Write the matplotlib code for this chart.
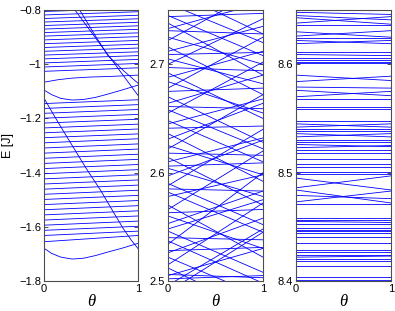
import numpy as np
import matplotlib
matplotlib.use("Agg")
import matplotlib.pyplot as plt

plt.rcParams['font.family'] = ['Liberation Sans', 'DejaVu Sans']

# ---- panel 1 : nearly flat levels (E at theta=0 and theta=1) ----
p1_left = [-0.805, -0.818, -0.831, -0.844, -0.857, -0.870, -0.883, -0.896,
           -0.910, -0.924, -0.938, -0.952, -0.966, -0.980, -0.995, -1.010,
           -1.026, -1.145, -1.163, -1.181, -1.199, -1.217, -1.235, -1.253,
           -1.271, -1.290, -1.309, -1.328, -1.347, -1.366, -1.385, -1.404,
           -1.423, -1.442, -1.461, -1.480, -1.499, -1.518, -1.537, -1.556,
           -1.575, -1.594, -1.613, -1.632, -1.655]
p1_right = [-0.793, -0.806, -0.819, -0.832, -0.845, -0.858, -0.871, -0.884,
            -0.898, -0.912, -0.926, -0.940, -0.954, -0.968, -0.982, -0.997,
            -1.013, -1.131, -1.149, -1.167, -1.185, -1.203, -1.221, -1.239,
            -1.257, -1.275, -1.294, -1.313, -1.332, -1.351, -1.370, -1.389,
            -1.408, -1.427, -1.446, -1.465, -1.484, -1.503, -1.522, -1.541,
            -1.560, -1.579, -1.598, -1.616, -1.632]

# curved / steep levels in panel 1 as (theta, E) samples
steep_a_t = [0.33, 0.60, 1.00]
steep_a_e = [-0.800, -0.927, -1.115]
steep_b_t = [0.38, 0.55, 0.68, 0.85, 1.00]
steep_b_e = [-0.800, -0.897, -0.968, -1.025, -1.070]
arch_t = [0.00, 0.15, 0.30, 0.50, 0.70, 1.00]
arch_e = [-1.066, -1.057, -1.051, -1.047, -1.045, -1.040]
dip_t = [0.00, 0.08, 0.18, 0.30, 0.42, 0.55, 0.68, 0.82, 1.00]
dip_e = [-1.095, -1.112, -1.126, -1.132, -1.130, -1.122, -1.110, -1.096, -1.077]
fall_t = [0.00, 0.10, 0.20, 0.33, 0.45, 0.60, 0.72, 0.84, 0.93, 1.00]
fall_e = [-1.125, -1.185, -1.243, -1.317, -1.385, -1.464, -1.535, -1.605,
          -1.650, -1.680]
bottom_t = [0.00, 0.08, 0.18, 0.30, 0.42, 0.55, 0.68, 0.82, 1.00]
bottom_e = [-1.679, -1.698, -1.712, -1.719, -1.716, -1.706, -1.693, -1.680,
            -1.661]

# ---- panel 2 : crossing levels ----
p2_left = [2.490, 2.496, 2.505, 2.515, 2.526, 2.534, 2.548, 2.553, 2.566,
           2.578, 2.588, 2.597, 2.610, 2.622, 2.631, 2.645, 2.655, 2.664,
           2.678, 2.688, 2.700, 2.712, 2.722, 2.733,
           2.770, 2.756, 2.745, 2.738, 2.725, 2.716, 2.705, 2.692, 2.684,
           2.670, 2.658, 2.648, 2.636, 2.625, 2.614, 2.604, 2.590, 2.582,
           2.570, 2.560, 2.546, 2.537, 2.522, 2.512,
           2.744, 2.731, 2.709, 2.697, 2.675, 2.661, 2.641, 2.618, 2.606,
           2.585, 2.563, 2.540, 2.528, 2.506, 2.502]
p2_right = [2.545, 2.548, 2.530, 2.572, 2.558, 2.600, 2.575, 2.583, 2.620,
            2.598, 2.640, 2.630, 2.632, 2.672, 2.664, 2.668, 2.702, 2.690,
            2.725, 2.712, 2.742, 2.735, 2.770, 2.757,
            2.728, 2.720, 2.708, 2.690, 2.700, 2.672, 2.682, 2.650, 2.655,
            2.628, 2.622, 2.610, 2.592, 2.598, 2.570, 2.578, 2.552, 2.545,
            2.522, 2.530, 2.508, 2.498, 2.485, 2.470,
            2.747, 2.728, 2.711, 2.694, 2.678, 2.659, 2.643, 2.616, 2.609,
            2.583, 2.566, 2.538, 2.531, 2.503, 2.505]

# ---- panel 3 : mostly flat levels ----
p3_left = [8.648, 8.645, 8.643, 8.638, 8.636, 8.630, 8.626, 8.624, 8.622,
           8.619, 8.611, 8.609, 8.606, 8.604, 8.602, 8.601, 8.590, 8.584,
           8.579, 8.576, 8.570, 8.568, 8.561, 8.559, 8.548, 8.545, 8.542,
           8.540, 8.538, 8.536, 8.533, 8.530, 8.528, 8.526, 8.523, 8.521,
           8.518, 8.513, 8.508, 8.505, 8.501, 8.499, 8.495, 8.486, 8.484,
           8.473, 8.479, 8.471, 8.458, 8.456, 8.455, 8.453, 8.449, 8.447,
           8.446, 8.444, 8.441, 8.435, 8.429, 8.427, 8.424, 8.422, 8.420,
           8.418, 8.414, 8.404, 8.401]
p3_right = [8.646, 8.641, 8.637, 8.644, 8.636, 8.625, 8.631, 8.624, 8.619,
            8.622, 8.611, 8.608, 8.606, 8.604, 8.602, 8.601, 8.585, 8.589,
            8.578, 8.571, 8.575, 8.568, 8.561, 8.559, 8.548, 8.542, 8.545,
            8.540, 8.538, 8.533, 8.536, 8.530, 8.528, 8.524, 8.525, 8.521,
            8.518, 8.513, 8.508, 8.505, 8.501, 8.499, 8.484, 8.497, 8.472,
            8.483, 8.476, 8.471, 8.458, 8.456, 8.454, 8.453, 8.449, 8.447,
            8.446, 8.444, 8.441, 8.435, 8.429, 8.427, 8.424, 8.423, 8.420,
            8.418, 8.414, 8.404, 8.401]

theta_ends = [0, 1]
lc = (0, 0, 1)
lw = 0.6

fig = plt.figure(figsize=(3.95, 3.11), dpi=100)
ax1 = fig.add_axes([0.1114, 0.0965, 0.238, 0.871])
ax2 = fig.add_axes([0.4253, 0.0965, 0.2405, 0.871])
ax3 = fig.add_axes([0.749, 0.0965, 0.2405, 0.871])

for l, r in zip(p1_left, p1_right):
    ax1.plot(theta_ends, [l, r], color=lc, lw=lw)
for t, e in [(steep_a_t, steep_a_e), (steep_b_t, steep_b_e), (arch_t, arch_e),
             (dip_t, dip_e), (fall_t, fall_e), (bottom_t, bottom_e)]:
    ax1.plot(t, e, color=lc, lw=lw)

for l, r in zip(p2_left, p2_right):
    ax2.plot(theta_ends, [l, r], color=lc, lw=lw)
for l, r in zip(p3_left, p3_right):
    ax3.plot(theta_ends, [l, r], color=lc, lw=lw)

ax1.set_ylim(-1.8, -0.8)
ax1.set_yticks([-1.8, -1.6, -1.4, -1.2, -1.0, -0.8])
ax1.set_yticklabels(['\u22121.8', '\u22121.6', '\u22121.4', '\u22121.2', '\u22121', '\u22120.8'])
ax2.set_ylim(2.5, 2.75)
ax2.set_yticks([2.5, 2.6, 2.7])
ax2.set_yticklabels(['2.5', '2.6', '2.7'])
ax3.set_ylim(8.4, 8.65)
ax3.set_yticks([8.4, 8.5, 8.6])
ax3.set_yticklabels(['8.4', '8.5', '8.6'])

for ax in (ax1, ax2, ax3):
    ax.set_xlim(0, 1)
    ax.set_xticks([0, 1])
    ax.set_xticklabels(['0', '1'])
    ax.tick_params(direction='in', length=3, width=0.6, labelsize=8,
                   top=True, right=True, pad=2, colors='0.2', labelcolor='k')
    for s in ax.spines.values():
        s.set_color('0.3')
        s.set_linewidth(0.8)
    ax.set_xlabel('\u03b8', fontfamily='Liberation Serif', style='italic',
                  fontsize=12, labelpad=0)

ax1.set_ylabel('E [J]', fontsize=9, labelpad=4)

fig.savefig('out.png', dpi=100)
